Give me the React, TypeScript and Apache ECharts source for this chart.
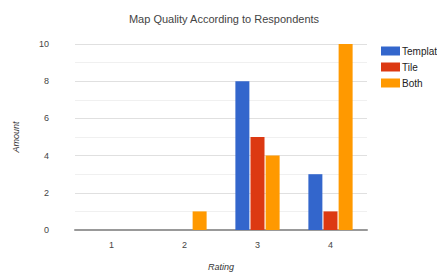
import React, { useEffect, useRef } from "react";
import * as echarts from "echarts";

const categories = ["1", "2", "3", "4"];
const templateValues = [0, 0, 8, 3];
const tileValues = [0, 0, 5, 1];
const bothValues = [0, 1, 4, 10];
const seriesNames = ["Template", "Tile", "Both"];
const colors = ["#3366cc", "#dc3912", "#ff9900"];

export default function App() {
  const ref = useRef<HTMLDivElement>(null);
  useEffect(() => {
    if (!ref.current) return;
    const chart = echarts.init(ref.current, null, { renderer: "svg" });
    const font = "'Liberation Sans', Arial, sans-serif";
    const values = [templateValues, tileValues, bothValues];
    chart.setOption({
      animation: false,
      color: colors,
      title: {
        text: "Map Quality According to Respondents",
        left: 219,
        textAlign: "center",
        top: 8,
        textStyle: { fontFamily: font, fontSize: 11, fontWeight: "normal", color: "#444" },
      },
      legend: {
        orient: "vertical",
        left: 376,
        top: 41,
        itemWidth: 19,
        itemHeight: 9,
        itemGap: 6,
        icon: "rect",
        data: seriesNames,
        textStyle: { fontFamily: font, fontSize: 10, color: "#222", padding: [0, 0, 0, -3] },
      },
      grid: { left: 75, right: 70, top: 44, bottom: 46 },
      xAxis: {
        type: "category",
        data: categories,
        name: "Rating",
        nameLocation: "middle",
        nameGap: 32,
        nameTextStyle: { fontFamily: font, fontSize: 9, fontStyle: "italic", color: "#333" },
        axisLine: { lineStyle: { color: "#999", width: 2 } },
        axisTick: { show: false },
        axisLabel: { fontFamily: font, fontSize: 9, color: "#444", margin: 10 },
      },
      yAxis: {
        type: "value",
        min: 0,
        max: 10,
        interval: 2,
        name: "Amount",
        nameLocation: "middle",
        nameGap: 55,
        nameTextStyle: { fontFamily: font, fontSize: 9, fontStyle: "italic", color: "#333" },
        axisLine: { show: false },
        axisTick: { show: false },
        axisLabel: { fontFamily: font, fontSize: 9, color: "#444", margin: 26 },
        splitLine: { lineStyle: { color: "#e0e0e0" } },
        minorTick: { show: false, splitNumber: 2 },
        minorSplitLine: { show: true, lineStyle: { color: "#f0f0f0" } },
      },
      series: seriesNames.map((name, i) => ({
        name,
        type: "bar",
        data: values[i],
        barWidth: 14,
        barGap: "8%",
        itemStyle: { color: colors[i] },
      })),
    });
    return () => chart.dispose();
  }, []);
  return (
    <div
      ref={ref}
      style={{ position: "absolute", left: 0, top: 0, width: 437, height: 276, background: "#fff" }}
    />
  );
}
